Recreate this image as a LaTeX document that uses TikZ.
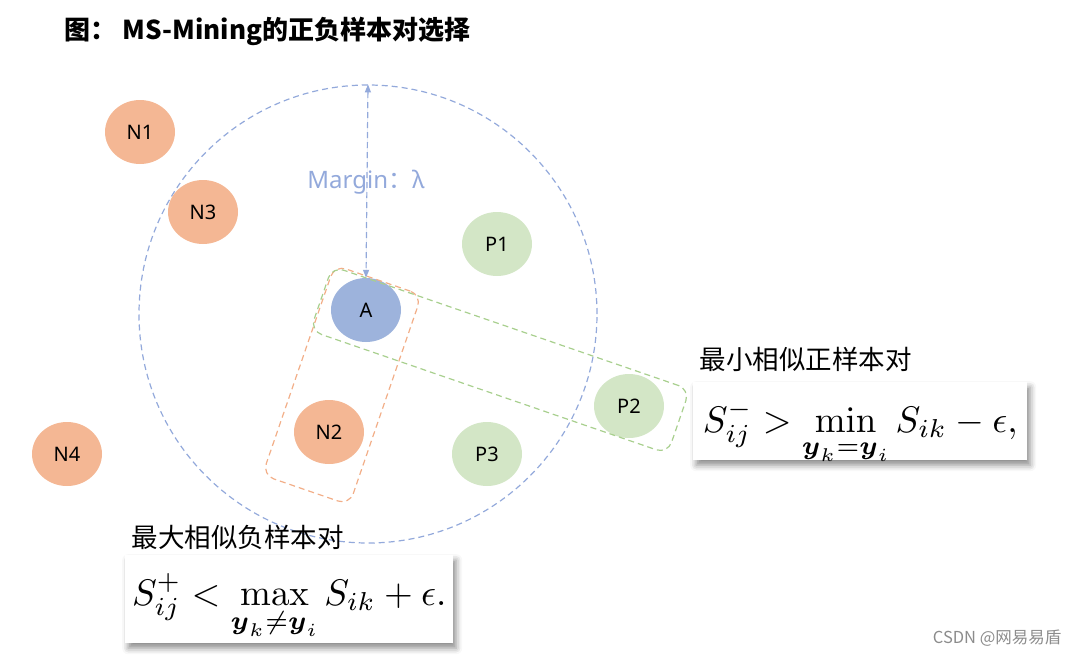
\documentclass[tikz,border=0pt]{standalone}
\usepackage{amsmath}
\usepackage{graphicx}
\usepackage[no-math]{fontspec}
\setmainfont{Noto Sans}
\newfontfamily\cjk{Noto Sans CJK SC}
\usepackage{tikz}
\usetikzlibrary{arrows.meta, shapes.geometric, shadows.blur}
\definecolor{ablue}{HTML}{9DB3DC}
\definecolor{nred}{HTML}{F4B794}
\definecolor{pgreen}{HTML}{D3E6C6}
\definecolor{ringblue}{HTML}{93A9DB}
\definecolor{boxred}{HTML}{F2AE88}
\definecolor{boxgreen}{HTML}{A8CF8E}
\newlength{\sampw}
\setlength{\sampw}{70pt}
\newlength{\samph}
\setlength{\samph}{64pt}
\newcommand{\bigmath}[1]{\scalebox{3.7}{$\displaystyle #1$}}
\tikzset{samp/.style = {shape=ellipse,minimum width=\sampw,minimum height=\samph,inner sep=0pt,font=\fontsize{20}{22}\selectfont}}
\tikzset{nsamp/.style = {samp,fill=nred}}
\tikzset{psamp/.style = {samp,fill=pgreen}}
\tikzset{asamp/.style = {samp,fill=ablue}}
\tikzset{dline/.style = {dash pattern=on 6pt off 4pt,line width=1.2pt}}
\tikzset{pairbox/.style = {dline,rounded corners=12pt,inner sep=0pt}}
\tikzset{formbox/.style = {anchor=north west,fill=white,inner xsep=0pt,inner ysep=0pt,text height=50pt,
    blur shadow={shadow xshift=3pt,shadow yshift=-5pt,shadow blur radius=6pt,shadow opacity=45}}}
\tikzset{pairlabel/.style = {anchor=west,font=\cjk\fontsize{26.5}{30}\selectfont}}
\tikzset{edge/.style = {<->,> = {Triangle[length=8pt,width=6pt]},dline,draw=ringblue,fill=ringblue}}

\begin{document}
\begin{tikzpicture}[x=1pt,y=-1pt]
        \useasboundingbox (0,0) rectangle (1080,657);
        \node[anchor=west,font=\cjk\bfseries\fontsize{26}{30}\selectfont] (title) at (61,31) {图： MS-Mining的正负样本对选择};
        \node[circle,draw=ringblue,dline,minimum size=458pt] (ring) at (368,314) {};
        \node[asamp] (a) at (366,310) {A};
        \node[nsamp] (n1) at (140,132) {N1};
        \node[nsamp] (n3) at (203,212) {N3};
        \node[nsamp] (n2) at (329,432) {N2};
        \node[nsamp] (n4) at (67,454) {N4};
        \node[psamp] (p1) at (497,244) {P1};
        \node[psamp] (p2) at (629,406) {P2};
        \node[psamp] (p3) at (487,454) {P3};
        \draw[edge] (ring.north) -- (a.north);
        \node[text=ringblue,font=\fontsize{24}{28}\selectfont] (m) at (366,182) {Margin{\cjk：}λ};
        \node[pairbox,draw=boxred,rotate=-19,minimum width=92pt,minimum height=222pt] (nbox) at (342,385) {};
        \node[pairbox,draw=boxgreen,rotate=-19,minimum width=378pt,minimum height=68pt] (pbox) at (500,360) {};
        \node[pairlabel] (lmin) at (696,359) {最小相似正样本对};
        \node[formbox,minimum width=334pt,text depth=28pt] (fmin) at (693,382)
            {\bigmath{S_{ij}^{-} > \min_{\boldsymbol{y}_k=\boldsymbol{y}_i} S_{ik} - \epsilon,}};
        \node[pairlabel] (lmax) at (128,537) {最大相似负样本对};
        \node[formbox,minimum width=328pt,text depth=38pt] (fmax) at (125,555)
            {\bigmath{S_{ij}^{+} < \max_{\boldsymbol{y}_k\neq\boldsymbol{y}_i} S_{ik} + \epsilon.}};
        \node[anchor=east,text=black!45,font=\cjk\fontsize{16.5}{19}\selectfont] (mark) at (1065,638) {CSDN @网易易盾};
    \end{tikzpicture}
\end{document}
